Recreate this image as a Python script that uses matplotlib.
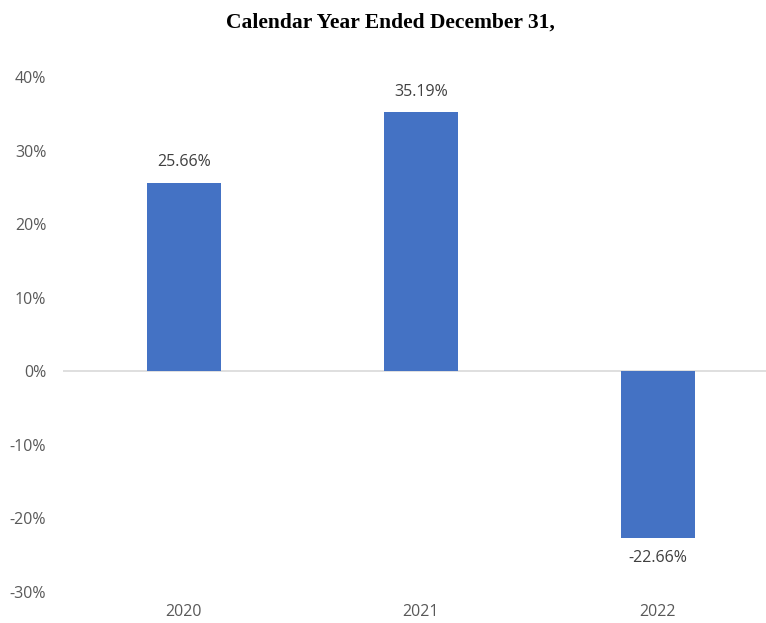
import matplotlib
matplotlib.use("Agg")
import matplotlib.pyplot as plt
from matplotlib.ticker import FuncFormatter

years = ["2020", "2021", "2022"]
returns = [25.66, 35.19, -22.66]
yticks = [-30, -20, -10, 0, 10, 20, 30, 40]

fig = plt.figure(figsize=(7.66, 6.23), dpi=100)
ax = fig.add_axes([63 / 766, 1 - 592 / 623, 1 - 63 / 766, (592 - 77) / 623])

x = range(len(years))
bars = ax.bar(x, returns, width=0.31, color="#4472C4", zorder=2)

ax.set_xlim(-0.51, 2.456)
ax.set_ylim(-30, 40)
ax.set_yticks(yticks)
ax.yaxis.set_major_formatter(FuncFormatter(lambda v, p: f"{v:.0f}%"))
ax.set_xticks(list(x))
ax.set_xticklabels(years)

for s in ax.spines.values():
    s.set_visible(False)
ax.axhline(0, color="#d9d9d9", lw=1.2, zorder=1)
ax.tick_params(axis="both", length=0, labelsize=11.5, labelcolor="#595959")
ax.tick_params(axis="y", pad=12)
ax.tick_params(axis="x", pad=9)
for lab in ax.get_xticklabels() + ax.get_yticklabels():
    lab.set_fontfamily("Open Sans")

for b, v in zip(bars, returns):
    if v >= 0:
        ax.annotate(f"{v:.2f}%", (b.get_x() + b.get_width() / 2, v),
                    xytext=(0, 9), textcoords="offset points",
                    ha="center", va="bottom", fontsize=11.5, color="#404040",
                    family="Open Sans")
    else:
        ax.annotate(f"{v:.2f}%", (b.get_x() + b.get_width() / 2, v),
                    xytext=(0, -9), textcoords="offset points",
                    ha="center", va="top", fontsize=11.5, color="#404040",
                    family="Open Sans")

fig.text(390 / 766, 1 - 23 / 623, "Calendar Year Ended December 31,",
         ha="center", va="center", fontsize=15.5, fontweight="bold",
         family="Liberation Serif")

fig.savefig("out.png", dpi=100)
